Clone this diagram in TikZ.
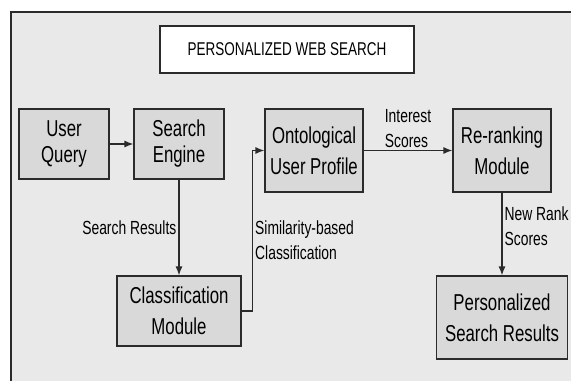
\documentclass[tikz,border=0pt]{standalone}
\usepackage{fontspec}
\setmainfont{Liberation Sans}[FakeStretch=0.73]
\usetikzlibrary{arrows.meta,positioning,calc}
\definecolor{panel}{HTML}{E9E9E9}
\definecolor{boxfill}{HTML}{D9D9D9}
\definecolor{edge}{HTML}{2B2B2B}
\begin{document}
\begin{tikzpicture}[x=1pt,y=-1pt,>={Latex[length=9pt,width=7pt]},
  blk/.style={draw=edge,line width=1.1pt,fill=boxfill,align=center,inner sep=0pt,font=\fontsize{23}{31}\selectfont},
  lbl/.style={font=\fontsize{19}{25}\selectfont,align=left,inner sep=2pt},
  link/.style={->,draw=edge,line width=1.3pt}]
\useasboundingbox (0,0) rectangle (571,381);
\fill[panel] (11,12) rectangle (571,381);
\draw[edge,line width=1.6pt] (11,381) -- (11,12) -- (571,12);
\node[blk,fill=white,minimum width=254pt,minimum height=47pt,font=\fontsize{18.5}{20}\selectfont] (title) at (287,49.5) {PERSONALIZED WEB SEARCH};
\node[blk,minimum width=90pt,minimum height=70pt,font=\fontsize{23}{26}\selectfont] (query) at (64,144) {User\\Query};
\node[blk,minimum width=90pt,minimum height=70pt,font=\fontsize{23}{26}\selectfont] (engine) at (179,144) {Search\\Engine};
\node[blk,minimum width=98pt,minimum height=83pt] (onto) at (314,150.5) {Ontological\\User Profile};
\node[blk,minimum width=98pt,minimum height=83pt] (rerank) at (502,150.5) {Re-ranking\\Module};
\node[blk,minimum width=124pt,minimum height=70pt] (classif) at (179,311) {Classification\\Module};
\node[blk,minimum width=131pt,minimum height=83pt] (result) at (502,317.5) {Personalized\\Search Results};
\draw[link] (query) -- (engine);
\draw[link] (engine) -- node[lbl,left,midway] {Search Results} (classif);
\draw[link] (classif.east) -- ++(11,0) |- node[lbl,right,pos=0.22] {Similarity-based\\Classification} (onto.west);
\draw[link] (onto) -- node[lbl,above] {Interest\\Scores} (rerank);
\draw[link] (rerank) -- node[lbl,right,pos=0.4] {New Rank\\Scores} (result);
\end{tikzpicture}
\end{document}
